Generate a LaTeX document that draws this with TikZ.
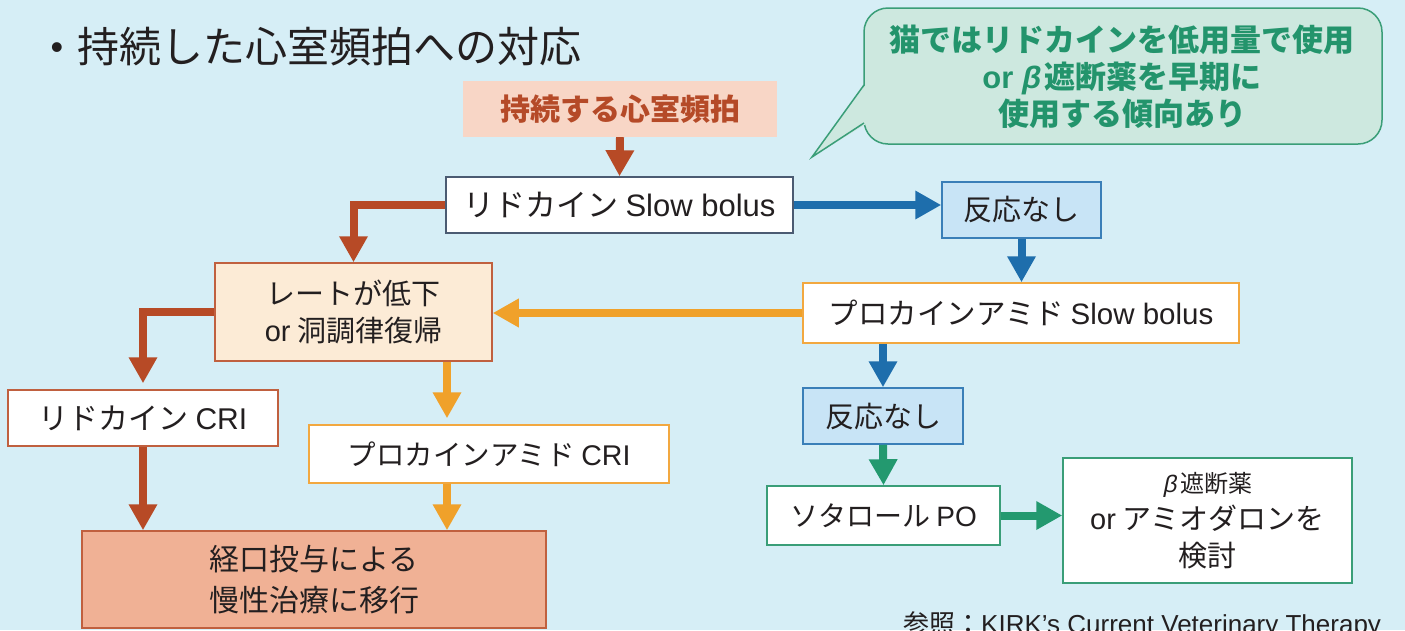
\documentclass[tikz,border=0pt]{standalone}
\usepackage{fontspec}
\setmainfont{Noto Sans CJK JP}
\newfontfamily\en{Liberation Sans}
\newfontfamily\betaf[FakeSlant=0.2]{Liberation Sans}
\usetikzlibrary{arrows.meta}
\definecolor{bgc}{HTML}{D6EEF6}
\definecolor{txt}{HTML}{231F20}
\definecolor{redc}{HTML}{B74A26}
\definecolor{redb}{HTML}{C0603F}
\definecolor{orac}{HTML}{F0A12A}
\definecolor{orab}{HTML}{F2A840}
\definecolor{bluec}{HTML}{1E6EAC}
\definecolor{blueb}{HTML}{3A7FB8}
\definecolor{bluef}{HTML}{C8E4F6}
\definecolor{greenc}{HTML}{23996F}
\definecolor{greenb}{HTML}{3A9E78}
\definecolor{calf}{HTML}{CDE8DF}
\definecolor{greent}{HTML}{23946C}
\definecolor{topf}{HTML}{F8D6C6}
\definecolor{topt}{HTML}{B54A28}
\definecolor{ratef}{HTML}{FCEBD6}
\definecolor{finalf}{HTML}{F0B195}
\definecolor{slate}{HTML}{4B5B72}
\begin{document}
\begin{tikzpicture}[x=1pt,y=-1pt,
  box/.style={draw, line width=1.5pt, inner sep=0pt, text=txt, align=center,
    font=\fontsize{29}{37}\selectfont},
  arr/.style={line width=8pt, -{Triangle[width=27pt,length=26pt]}},
  gapped/.style={shorten >=6pt}]
\useasboundingbox (0,0) rectangle (1405,630);
\fill[bgc] (0,0) rectangle (1405,630);
% title
\node[inner sep=0pt, text=txt, font=\fontsize{36}{40}\selectfont\en] (bullet) at (57,51) {•};
\node[inner sep=0pt, anchor=west, text=txt, font=\fontsize{42}{46}\selectfont] (title) at (77,47) {持続した心室頻拍への対応};
% callout
\node[draw=greenb, fill=calf, line width=1.5pt, rounded corners=24pt, minimum width=518pt, minimum height=136pt, inner sep=0pt] (callbox) at (1123,76) {};
\fill[calf] (866,84) -- (812,157) -- (866,124) -- cycle;
\draw[greenb, line width=1.5pt] (864,85) -- (812,157) -- (864,123);
\node[inner sep=0pt, align=center, text=greent, font=\fontsize{31}{37}\selectfont\bfseries] (calltext) at (1122,77)
  {猫ではリドカインを低用量で使用\\{\en or} {\betaf β}\,遮断薬を早期に\\使用する傾向あり};
% boxes
\node[fill=topf, inner sep=0pt, minimum width=314pt, minimum height=56pt, text=topt,
  font=\fontsize{30}{36}\selectfont\bfseries] (top) at (620,109) {持続する心室頻拍};
\node[box, draw=slate, fill=white, minimum width=347pt, minimum height=56pt, font=\fontsize{31}{37}\selectfont] (lido) at (619.5,205)
  {リドカイン {\en Slow bolus}};
\node[box, draw=blueb, fill=bluef, minimum width=159pt, minimum height=56pt] (nr1) at (1021.5,210) {反応なし};
\node[box, draw=orab, fill=white, minimum width=436pt, minimum height=60pt, font=\fontsize{29.5}{34}\selectfont] (procsb) at (1021,313)
  {プロカインアミド {\en Slow bolus}};
\node[box, draw=redb, fill=ratef, minimum width=277pt, minimum height=98pt] (rate) at (353.5,312)
  {レートが低下\\{\en or} 洞調律復帰};
\node[box, draw=redb, fill=white, minimum width=270pt, minimum height=56pt, font=\fontsize{30}{36}\selectfont] (lidocri) at (143,418)
  {リドカイン {\en CRI}};
\node[box, draw=orab, fill=white, minimum width=360pt, minimum height=58pt, font=\fontsize{28.5}{34}\selectfont] (proccri) at (489,454)
  {プロカインアミド {\en CRI}};
\node[box, draw=redb, fill=finalf, minimum width=464pt, minimum height=97pt, font=\fontsize{30}{41}\selectfont] (final) at (314,579.5)
  {経口投与による\\慢性治療に移行};
\node[box, draw=blueb, fill=bluef, minimum width=160pt, minimum height=56pt] (nr2) at (883,416) {反応なし};
\node[box, draw=greenb, fill=white, minimum width=233pt, minimum height=59pt, font=\fontsize{28}{34}\selectfont] (sotalol) at (883.5,515.5)
  {ソタロール {\en PO}};
\node[box, draw=greenb, fill=white, minimum width=289pt, minimum height=125pt] (consider) at (1207.5,520.5)
  {{\fontsize{24}{30}\selectfont{\betaf β}\,遮断薬}\\{\en or} アミオダロンを\\検討};
% reference
\node[inner sep=0pt, anchor=base west, text=txt, font=\fontsize{26}{30}\selectfont] (ref) at (903,633)
  {参照：{\en KIRK’s Current Veterinary Therapy}};
% helper coordinates
\coordinate (ox) at (447,0);
% arrows
\draw[arr, redc] (top.south) -- (lido.north);
\draw[arr, bluec] (lido.east) -- (lido.east -| nr1.west);
\draw[arr, bluec] (nr1.south) -- (nr1.south |- procsb.north);
\draw[arr, orac] (procsb.west) -- (procsb.west -| rate.east);
\draw[arr, redc] (lido.west) -| (rate.north);
\draw[arr, redc, gapped] (rate.west) -| (lidocri.north);
\draw[arr, orac, gapped] (rate.south -| ox) -- (proccri.north -| ox);
\draw[arr, bluec] (procsb.south -| nr2.north) -- (nr2.north);
\draw[arr, greenc] (nr2.south) -- (sotalol.north);
\draw[arr, greenc] (sotalol.east) -- (sotalol.east -| consider.west);
\draw[arr, redc] (lidocri.south) -- (lidocri.south |- final.north);
\draw[arr, orac] (proccri.south -| ox) -- (final.north -| ox);
\end{tikzpicture}
\end{document}
